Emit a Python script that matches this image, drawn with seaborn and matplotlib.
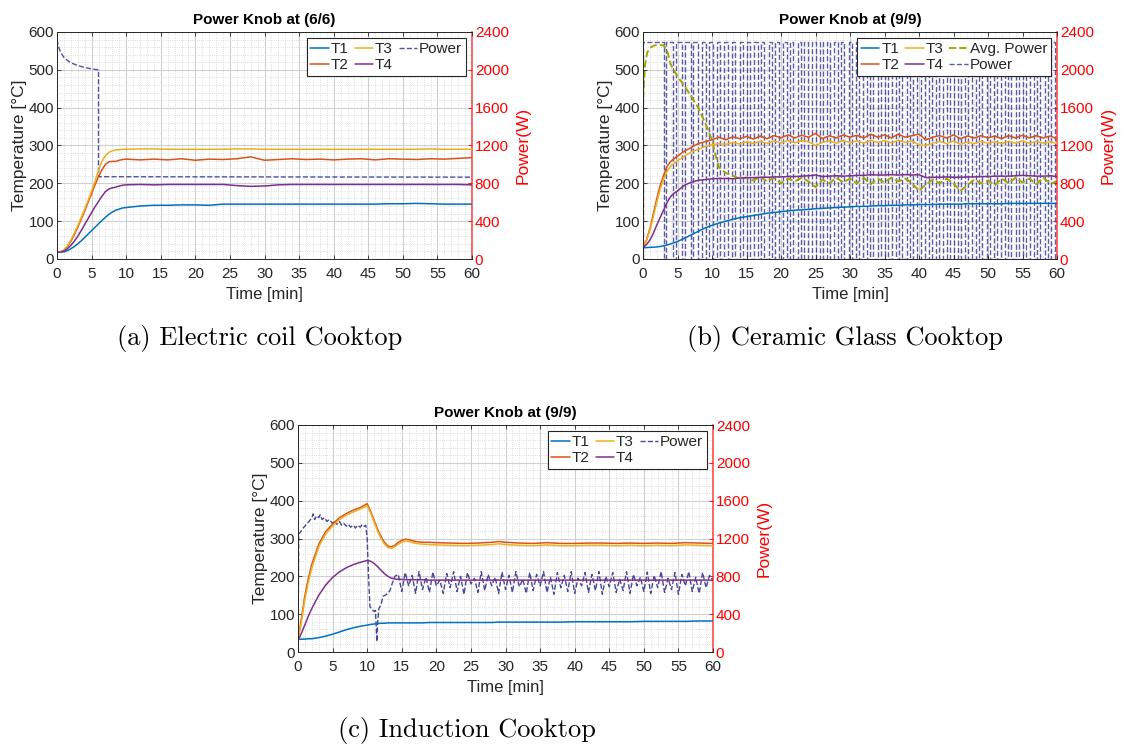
import numpy as np
import matplotlib
matplotlib.use("Agg")
import matplotlib.pyplot as plt
from matplotlib.ticker import MultipleLocator
import seaborn as sns

# ---------------- (a) Electric coil cooktop ----------------
a_time = [0, 0.5, 1, 1.5, 2, 2.5, 3, 3.5, 4, 4.5, 5, 5.5, 6, 6.5, 7, 7.5, 8, 8.5, 9, 9.5, 10,
          12, 14, 16, 18, 20, 22, 24, 26, 28, 30, 32, 34, 36, 38, 40, 42, 44, 46, 48, 50,
          52, 54, 56, 58, 60]
a_T1 = [18, 18, 19, 22, 27, 33, 40, 48, 57, 66, 75, 84, 93, 102, 110, 118, 124, 129, 132, 135, 136,
        140, 142, 142, 143, 143, 142, 145, 145, 145, 145, 145, 145, 145, 145, 145, 145, 145, 145,
        146, 146, 147, 146, 145, 145, 145]
a_T2 = [18, 19, 23, 33, 47, 64, 84, 105, 127, 150, 173, 196, 218, 236, 250, 257, 258, 258, 261, 263, 264,
        262, 264, 262, 265, 261, 264, 263, 265, 270, 261, 263, 265, 263, 264, 262, 264, 265, 262,
        265, 264, 263, 265, 264, 266, 268]
a_T3 = [18, 19, 24, 35, 50, 68, 88, 110, 132, 155, 180, 205, 235, 258, 273, 282, 286, 288, 289, 290, 290,
        291, 291, 290, 290, 290, 290, 290, 291, 291, 290, 290, 290, 290, 290, 290, 290, 290, 290,
        290, 290, 290, 291, 290, 290, 290]
a_T4 = [18, 18, 21, 27, 36, 47, 60, 75, 91, 107, 123, 138, 152, 166, 178, 185, 188, 190, 193, 195, 196,
        197, 196, 197, 197, 197, 197, 197, 194, 192, 193, 196, 197, 197, 197, 197, 197, 197, 197,
        197, 197, 197, 197, 197, 197, 196]
a_power_time = [0, 0.2, 0.5, 1, 1.5, 2, 3, 4, 5, 6, 6, 60]
a_power_w = [2320, 2250, 2190, 2130, 2100, 2075, 2045, 2025, 2010, 2000, 870, 865]

# ---------------- (b) Ceramic glass cooktop ----------------
b_time = [0, 0.5, 1, 1.5, 2, 2.5, 3, 3.5, 4, 4.5, 5] + list(range(6, 61))
b_T1 = [30, 30, 31, 31, 32, 33, 35, 37, 40, 43, 46,
        55, 64, 73, 82, 89, 95, 100, 105, 109, 112, 115, 118, 121, 123, 125, 127, 129, 130, 131, 133,
        134, 135, 136, 137, 138, 139, 139, 140, 141, 141, 142, 142, 143, 143, 144, 144, 144, 145, 145,
        145, 145, 146, 146, 146, 146, 146, 146, 147, 147, 147, 147, 147, 147, 147, 147]
b_T2 = [30, 50, 80, 120, 160, 195, 222, 245, 258, 265, 272,
        285, 295, 305, 310, 315, 322, 315, 323, 318, 324, 317, 325, 318, 326, 320, 328, 320, 327, 322,
        332, 318, 326, 320, 328, 322, 327, 320, 330, 322, 328, 320, 330, 322, 326, 330, 315, 322, 326,
        320, 328, 318, 325, 320, 326, 320, 325, 318, 326, 320, 327, 320, 326, 320, 325, 318]
b_T3 = [30, 48, 75, 112, 150, 185, 212, 232, 245, 253, 260,
        272, 283, 290, 297, 302, 305, 303, 308, 304, 310, 305, 311, 306, 312, 307, 313, 307, 313, 310,
        300, 308, 312, 306, 313, 308, 312, 306, 314, 308, 313, 307, 314, 308, 312, 302, 300, 306, 311,
        305, 312, 303, 309, 305, 311, 306, 310, 305, 311, 306, 312, 306, 311, 306, 310, 305]
b_T4 = [30, 38, 50, 68, 90, 110, 130, 150, 165, 174, 180,
        195, 203, 208, 210, 212, 213, 213, 212, 214, 215, 215, 216, 216, 217, 217, 218, 218, 219, 220,
        222, 218, 219, 220, 219, 220, 221, 221, 223, 222, 222, 223, 222, 223, 222, 223, 215, 216, 216,
        217, 216, 216, 217, 217, 218, 218, 219, 219, 219, 220, 221, 220, 219, 219, 220, 218]
b_avg_time = [0, 0.3, 0.6, 1, 1.5, 2, 2.5, 3, 3.5, 4, 5, 6, 7, 8, 9, 10, 10.5, 11, 12, 13, 14] + list(range(15, 61))
b_avg_w = [1700, 2050, 2180, 2230, 2255, 2262, 2262, 2258, 2200, 2060, 1930, 1830, 1720, 1600, 1440,
           1260, 1100, 970, 910, 880, 850,
           860, 830, 870, 820, 860, 800, 850, 820, 860, 820, 760, 840, 800, 860, 810, 850, 800, 860,
           790, 850, 810, 860, 820, 850, 800, 720, 790, 840, 800, 850, 800, 720, 780, 840, 800, 830,
           780, 850, 800, 860, 810, 850, 790, 860, 800, 820]
b_on_start = [0.0, 3.4, 4.8, 6.1, 7.3, 8.5, 9.6, 10.7, 11.8, 12.9, 14.0, 15.0, 16.1, 17.1, 18.2, 19.2,
              20.3, 21.3, 22.4, 23.4, 24.5, 25.6, 26.6, 27.7, 28.7, 29.8, 30.8, 31.9, 32.9, 34.0, 35.0,
              36.1, 37.1, 38.2, 39.2, 40.3, 41.4, 42.4, 43.5, 44.5, 45.6, 46.6, 47.7, 48.7, 49.8, 50.8,
              51.9, 52.9, 54.0, 55.0, 56.1, 57.1, 58.2, 59.2]
b_on_end = [3.0, 4.4, 5.7, 6.9, 8.0, 9.1, 10.2, 11.2, 12.3, 13.4, 14.5, 15.5, 16.6, 17.6, 18.7, 19.7,
            20.8, 21.8, 22.9, 23.9, 25.0, 26.1, 27.1, 28.2, 29.2, 30.3, 31.3, 32.4, 33.4, 34.5, 35.5,
            36.6, 37.6, 38.7, 39.7, 40.8, 41.9, 42.9, 44.0, 45.0, 46.1, 47.1, 48.2, 49.2, 50.3, 51.3,
            52.4, 53.4, 54.5, 55.5, 56.6, 57.6, 58.7, 59.7]
b_on_level = 2290

# ---------------- (c) Induction cooktop ----------------
c_time = [0, 0.5, 1, 1.5, 2, 3, 4, 5, 6, 7, 8, 9, 10, 10.5, 11, 11.5, 12, 12.5, 13, 13.5, 14, 14.5,
          15, 15.5, 16, 17, 18, 19, 20, 22, 24, 26, 28, 29, 30, 32, 34, 36, 38, 40, 42, 44, 46, 48,
          50, 52, 54, 56, 58, 60]
c_T1 = [33, 34, 34, 35, 35, 38, 42, 47, 53, 59, 64, 68, 71, 73, 74, 75, 76, 76, 77, 77, 77, 77, 77, 77,
        77, 77, 77, 78, 78, 78, 78, 78, 78, 79, 79, 79, 79, 79, 79, 80, 80, 80, 80, 80, 81, 81, 81, 81,
        82, 82]
c_T2 = [30, 90, 150, 195, 232, 285, 318, 338, 355, 366, 375, 382, 392, 372, 348, 325, 305, 290, 280,
        278, 282, 290, 295, 298, 297, 292, 290, 290, 289, 288, 287, 288, 290, 292, 290, 288, 287, 289,
        287, 287, 288, 288, 287, 288, 287, 288, 287, 289, 288, 287]
c_T3 = [30, 80, 140, 185, 222, 278, 312, 333, 350, 362, 370, 378, 386, 368, 343, 320, 300, 285, 276,
        274, 278, 285, 290, 293, 292, 287, 285, 284, 283, 282, 281, 282, 284, 286, 284, 282, 281, 283,
        281, 281, 282, 282, 281, 282, 281, 282, 281, 283, 282, 281]
c_T4 = [30, 50, 72, 95, 115, 150, 177, 197, 212, 223, 231, 237, 242, 240, 234, 226, 216, 207, 200,
        195, 193, 192, 192, 191, 191, 191, 191, 190, 190, 190, 190, 190, 190, 190, 190, 190, 190, 190,
        190, 190, 190, 190, 190, 190, 190, 190, 190, 190, 190, 190]
c_power_time = [0, 0.1, 0.3, 0.6, 1, 1.3, 1.6, 2, 2.2, 2.4, 2.7, 3, 3.2, 3.5, 3.8, 4.2, 4.5, 5, 5.3,
                5.6, 6, 6.3, 6.6, 7, 7.3, 7.6, 8, 8.3, 8.6, 9, 9.3, 9.6, 9.8, 10, 10.2, 10.4, 10.7, 11,
                11.2, 11.4, 11.5, 11.7, 12, 12.3, 12.6, 13, 13.3, 13.6, 14]
c_power_w = [0, 1250, 1260, 1300, 1330, 1360, 1380, 1420, 1460, 1400, 1440, 1420, 1450, 1400, 1420,
             1380, 1400, 1360, 1390, 1350, 1380, 1340, 1360, 1330, 1350, 1320, 1340, 1310, 1340, 1320,
             1350, 1330, 1340, 1200, 800, 480, 450, 430, 440, 110, 300, 460, 500, 590, 600, 620, 650,
             720, 800]
c_power_tail_w = [820, 640, 840, 700, 810, 620, 850, 660, 790, 630,
                  845, 700, 760, 620, 830, 680, 850, 640, 800, 610,
                  840, 720, 780, 630, 850, 650, 820, 700, 790, 620,
                  845, 660, 810, 630, 850, 690, 770, 620, 840, 650,
                  820, 700, 850, 630, 790, 610, 840, 680, 810, 640,
                  850, 620, 780, 700, 840, 630, 820, 650, 850, 610,
                  800, 690, 840, 630, 770, 650, 850, 620, 820, 700,
                  790, 640, 845, 620, 810, 680, 850, 630, 780, 660,
                  840, 610, 820, 700, 850, 640, 790, 620, 840, 680,
                  810, 760]
c_power_tail_start, c_power_tail_end = 14.5, 60

titles = ["Power Knob at (6/6)", "Power Knob at (9/9)", "Power Knob at (9/9)"]
captions = ["(a) Electric coil Cooktop", "(b) Ceramic Glass Cooktop", "(c) Induction Cooktop"]
x_ticks = list(range(0, 61, 5))
t_ticks = list(range(0, 601, 100))
p_ticks = list(range(0, 2401, 400))

# ---------------- style ----------------
sns.set_theme(style="ticks")
plt.rcParams['font.family'] = ['Liberation Sans', 'DejaVu Sans']
plt.rcParams['axes.unicode_minus'] = False

C_T1, C_T2, C_T3, C_T4 = '#0072BD', '#D95319', '#EDB120', '#7E2F8E'
C_P, C_AVG, RED, DARK = '#34348f', '#a5a500', '#ff0000', '#262626'

W, H = 1125, 745
fig = plt.figure(figsize=(W / 100, H / 100), dpi=100)


def rect(l, t, r, b):
    return [l / W, 1 - b / H, (r - l) / W, (b - t) / H]


def line(ax, x, y, color, lw, ls='-', label=None, alpha=1.0):
    sns.lineplot(x=np.asarray(x, float), y=np.asarray(y, float), ax=ax, color=color,
                 linewidth=lw, linestyle=ls, estimator=None, sort=False, alpha=alpha, legend=False)
    ln = ax.get_lines()[-1]
    ln.set_label(label)
    return ln


def make_axes(r, title):
    ax = fig.add_axes(rect(*r))
    ax2 = ax.twinx()
    ax.set_zorder(2)
    ax2.set_zorder(1)
    ax.patch.set_visible(False)
    ax2.patch.set_visible(True)
    ax2.patch.set_facecolor('white')
    ax.set_xlim(0, 60)
    ax.set_ylim(0, 600)
    ax2.set_ylim(0, 2400)
    ax.set_xticks(x_ticks)
    ax.set_yticks(t_ticks)
    ax2.set_yticks(p_ticks)
    ax.xaxis.set_minor_locator(MultipleLocator(1))
    ax2.yaxis.set_minor_locator(MultipleLocator(80))
    ax2.xaxis.set_visible(True)
    ax2.tick_params(axis='x', which='both', bottom=False, top=False,
                    labelbottom=False, labeltop=False)
    ax2.grid(True, which='major', color='#d0d0d0', lw=0.8, ls='-')
    ax2.grid(True, which='minor', color='#d4d4d4', lw=0.6, ls=':')
    ax.tick_params(axis='both', which='major', direction='in', length=3, width=0.6,
                   labelsize=11, colors=DARK, top=True, right=False)
    ax.tick_params(axis='x', which='major', pad=6)
    ax.tick_params(axis='y', which='major', pad=2)
    ax.tick_params(axis='both', which='minor', length=0)
    ax2.tick_params(axis='y', which='major', direction='in', length=3, width=0.6,
                    labelsize=11, colors=RED, pad=2)
    ax2.tick_params(axis='y', which='minor', length=0)
    for s in ['top', 'left', 'bottom']:
        ax.spines[s].set_color(DARK)
        ax.spines[s].set_linewidth(0.7)
    ax.spines['right'].set_visible(False)
    for s in ['top', 'left', 'bottom']:
        ax2.spines[s].set_visible(False)
    ax2.spines['right'].set_color(RED)
    ax2.spines['right'].set_linewidth(1.2)
    ax2.spines['right'].set_alpha(0.7)
    ax.set_xlabel('Time [min]', fontsize=12, labelpad=4, color=DARK)
    ax.set_ylabel('Temperature [°C]', fontsize=12.5, labelpad=1, color=DARK)
    ax2.set_ylabel('Power(W)', fontsize=12.5, labelpad=5, color=RED)
    ax.set_title(title, fontsize=11, fontweight='bold', pad=6, color='black')
    return ax, ax2


def legend(ax, handles):
    leg = ax.legend(handles=handles, labels=[h.get_label() for h in handles], ncol=3,
                    loc='upper right', fontsize=11, handlelength=1.2, handletextpad=0.12,
                    columnspacing=0.4, borderpad=0.25, labelspacing=0.15, fancybox=False,
                    edgecolor=DARK, framealpha=1, borderaxespad=0.4)
    leg.get_frame().set_linewidth(0.8)


LW = 1.1

# ---- (a)
ax, ax2 = make_axes((57, 32, 472, 259), titles[0])
hp = line(ax2, a_power_time, a_power_w, C_P, 1.0, '--', 'Power', alpha=0.85)
h1 = line(ax, a_time, a_T1, C_T1, LW, label='T1')
h2 = line(ax, a_time, a_T2, C_T2, LW, label='T2')
h3 = line(ax, a_time, a_T3, C_T3, LW, label='T3')
h4 = line(ax, a_time, a_T4, C_T4, LW, label='T4')
legend(ax, [h1, h2, h3, h4, hp])

# ---- (b)
ax, ax2 = make_axes((643, 32, 1057, 259), titles[1])
px, py = [], []
for s, e in zip(b_on_start, b_on_end):
    px += [s, s, e, e]
    py += [0, b_on_level, b_on_level, 0]
hp = line(ax2, px, py, C_P, 1.0, '--', 'Power', alpha=0.8)
ha = line(ax2, b_avg_time, b_avg_w, C_AVG, 1.4, '--', 'Avg. Power')
h1 = line(ax, b_time, b_T1, C_T1, LW, label='T1')
h2 = line(ax, b_time, b_T2, C_T2, LW, label='T2')
h3 = line(ax, b_time, b_T3, C_T3, LW, label='T3')
h4 = line(ax, b_time, b_T4, C_T4, LW, label='T4')
legend(ax, [h1, h2, h3, h4, ha, hp])

# ---- (c)
ax, ax2 = make_axes((298, 425, 713, 652), titles[2])
tail_t = np.linspace(c_power_tail_start, c_power_tail_end, len(c_power_tail_w))
cx = list(c_power_time) + list(tail_t)
cy = list(c_power_w) + list(c_power_tail_w)
hp = line(ax2, cx, cy, C_P, 1.0, '--', 'Power', alpha=0.9)
h1 = line(ax, c_time, c_T1, C_T1, LW, label='T1')
h2 = line(ax, c_time, c_T2, C_T2, LW, label='T2')
h3 = line(ax, c_time, c_T3, C_T3, LW, label='T3')
h4 = line(ax, c_time, c_T4, C_T4, LW, label='T4')
legend(ax, [h1, h2, h3, h4, hp])

# captions
for txt, (x, y) in zip(captions, [(260, 339), (845, 339), (467, 730)]):
    fig.text(x / W, 1 - y / H, txt, ha='center', va='center', family='cmr10', fontsize=19,
             color='black')

fig.savefig('out.png', dpi=100)
